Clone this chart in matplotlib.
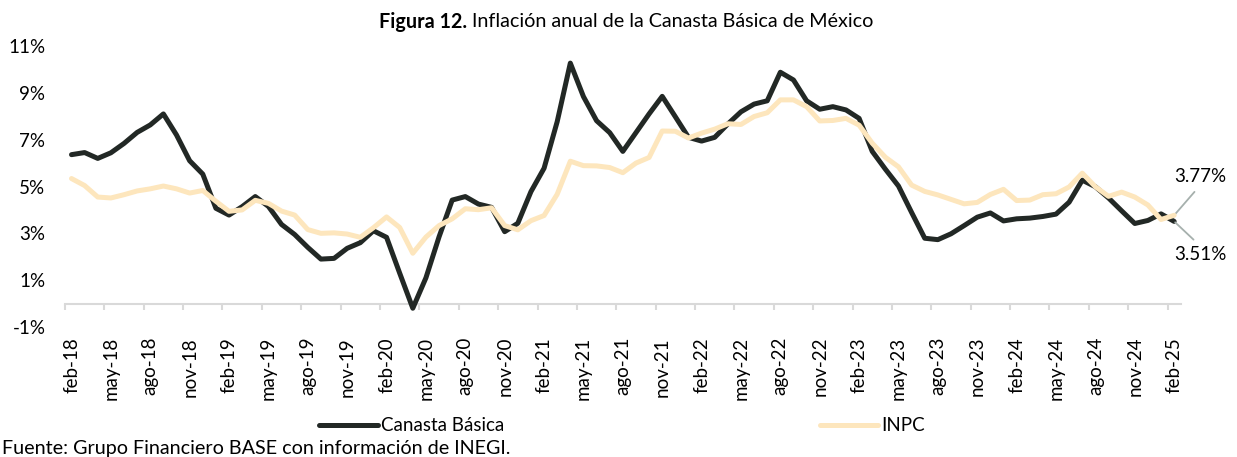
import matplotlib
matplotlib.use('Agg')
import matplotlib.pyplot as plt
from matplotlib.ticker import FixedLocator, FuncFormatter

plt.rcParams['font.family'] = ['Lato', 'DejaVu Sans']

# Meses: feb-18 ... feb-25
meses = ['ene', 'feb', 'mar', 'abr', 'may', 'jun', 'jul', 'ago', 'sep', 'oct', 'nov', 'dic']
etiquetas = [f"{meses[(1 + k) % 12]}-{18 + (1 + k) // 12}" for k in range(85)]

# Inflación anual (%)
canasta = [6.36, 6.45, 6.20, 6.44, 6.84, 7.31, 7.63, 8.10, 7.20, 6.10, 5.53,
           4.07, 3.78, 4.14, 4.57, 4.15, 3.38, 2.95, 2.40, 1.90, 1.93, 2.36, 2.60, 3.11,
           2.83, 1.30, -0.20, 1.10, 2.85, 4.42, 4.57, 4.25, 4.11, 3.07, 3.43, 4.78,
           5.78, 7.77, 10.27, 8.84, 7.81, 7.30, 6.50, 7.30, 8.10, 8.85, 7.98, 7.10,
           6.94, 7.10, 7.67, 8.19, 8.52, 8.66, 9.88, 9.55, 8.66, 8.30, 8.41, 8.27,
           7.91, 6.50, 5.74, 5.02, 3.89, 2.79, 2.73, 2.98, 3.33, 3.69, 3.87, 3.53,
           3.62, 3.65, 3.72, 3.82, 4.33, 5.27, 4.99, 4.51, 3.96, 3.42, 3.55, 3.83,
           3.51]
inpc = [5.34, 5.04, 4.55, 4.51, 4.65, 4.81, 4.90, 5.02, 4.90, 4.72, 4.83,
        4.37, 3.94, 4.00, 4.41, 4.28, 3.95, 3.78, 3.16, 3.00, 3.02, 2.97, 2.83,
        3.24, 3.70, 3.25, 2.15, 2.84, 3.33, 3.62, 4.05, 4.01, 4.09, 3.33, 3.15,
        3.54, 3.76, 4.67, 6.08, 5.89, 5.88, 5.81, 5.59, 6.00, 6.24, 7.37, 7.36,
        7.07, 7.28, 7.45, 7.68, 7.65, 7.99, 8.15, 8.70, 8.70, 8.41, 7.80, 7.82,
        7.91, 7.62, 6.85, 6.25, 5.84, 5.06, 4.79, 4.64, 4.45, 4.26, 4.32, 4.66,
        4.88, 4.40, 4.42, 4.65, 4.69, 4.98, 5.57, 4.99, 4.58, 4.76, 4.55, 4.21,
        3.59, 3.77]

x = list(range(len(etiquetas)))

fig = plt.figure(figsize=(12.37, 4.57), dpi=100)
ax = fig.add_axes([0.0525, 0.2845, 0.902, 0.6148])

ax.plot(x, canasta, color='#222825', lw=3.6, solid_joinstyle='round',
        solid_capstyle='round', label='Canasta Básica', zorder=3)
ax.plot(x, inpc, color='#fde6bd', lw=3.6, solid_joinstyle='round',
        solid_capstyle='round', label='INPC', zorder=4)

ax.set_xlim(-0.5, len(x) - 0.5)
ax.set_ylim(-1, 11)
ax.set_yticks(range(-1, 12, 2))
ax.yaxis.set_major_formatter(FuncFormatter(lambda v, p: f"{v:.0f}%"))
ax.tick_params(axis='y', length=0, pad=14, labelsize=13.5, colors='black')

# eje x cruzando en 0, marcas entre categorías
for s in ['top', 'right', 'left']:
    ax.spines[s].set_visible(False)
ax.spines['bottom'].set_position(('data', 0))
ax.spines['bottom'].set_color('#d9d9d9')
ax.spines['bottom'].set_linewidth(1.5)
ax.set_xticks(x[::3])
ax.set_xticklabels(etiquetas[::3], rotation=90)
ax.xaxis.set_minor_locator(FixedLocator([v - 0.5 for v in x[::3]]))
ax.tick_params(axis='x', which='major', length=0, pad=24, labelsize=13.5)
ax.tick_params(axis='x', which='minor', length=4.5, width=1.5, color='#d9d9d9')

# etiquetas del último dato
ax.annotate(f"{inpc[-1]:.2f}%", xy=(x[-1], inpc[-1]), xytext=(19, 28),
            textcoords='offset points', ha='center', va='center', fontsize=13.5,
            arrowprops=dict(arrowstyle='-', color='#a6b0ad', lw=1.3,
                            shrinkA=4, shrinkB=1, relpos=(0.5, 0)))
ax.annotate(f"{canasta[-1]:.2f}%", xy=(x[-1], canasta[-1]), xytext=(19, -24),
            textcoords='offset points', ha='center', va='center', fontsize=13.5,
            arrowprops=dict(arrowstyle='-', color='#a6b0ad', lw=1.3,
                            shrinkA=4, shrinkB=1, relpos=(0.5, 1)))

fig.legend(loc='center', bbox_to_anchor=(0.503, 0.068), ncol=2, frameon=False,
           fontsize=13.5, handlelength=3.1, handletextpad=0.2, columnspacing=16.8)

# título con parte en negrita
fig.canvas.draw()
r = fig.canvas.get_renderer()
t1 = fig.text(0, 0.952, 'Figura 12.', fontsize=14.2, fontweight='bold', va='center')
t2 = fig.text(0, 0.952, ' Inflación anual de la Canasta Básica de México',
              fontsize=14.2, va='center')
w1 = t1.get_window_extent(r).width / fig.bbox.width
w2 = t2.get_window_extent(r).width / fig.bbox.width
x0 = 0.506 - (w1 + w2) / 2
t1.set_x(x0)
t2.set_x(x0 + w1)

fig.text(0.002, 0.0, 'Fuente: Grupo Financiero BASE con información de INEGI.',
         fontsize=14.2, va='bottom', ha='left')

fig.savefig('out.png', dpi=100)
